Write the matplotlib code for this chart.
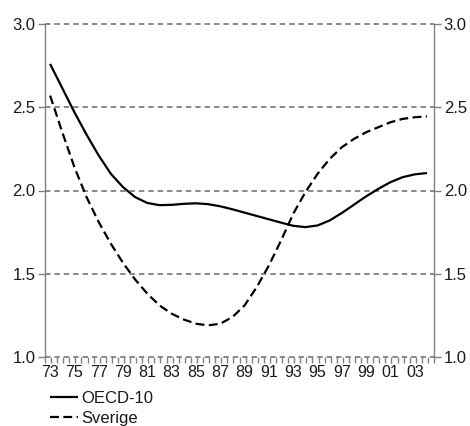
import matplotlib
matplotlib.use("Agg")
import matplotlib.pyplot as plt
import numpy as np

plt.rcParams['font.family'] = ['Liberation Sans', 'DejaVu Sans']

years = list(range(1973, 2005))
oecd10 = [2.76, 2.615, 2.47, 2.335, 2.21, 2.10, 2.02, 1.96, 1.925, 1.912,
          1.914, 1.92, 1.923, 1.918, 1.905, 1.887, 1.867, 1.847, 1.827,
          1.807, 1.788, 1.78, 1.79, 1.82, 1.865, 1.915, 1.965, 2.01, 2.05,
          2.08, 2.097, 2.105]
sverige = [2.57, 2.35, 2.14, 1.96, 1.81, 1.68, 1.565, 1.465, 1.38, 1.31,
           1.26, 1.225, 1.20, 1.19, 1.20, 1.24, 1.31, 1.42, 1.55, 1.70,
           1.86, 1.99, 2.10, 2.19, 2.26, 2.31, 2.35, 2.38, 2.41, 2.43,
           2.44, 2.445]
tick_years = list(range(1973, 2004, 2))
tick_labels = [f"{y % 100:02d}" for y in tick_years]
y_ticks = [1.0, 1.5, 2.0, 2.5, 3.0]
series_names = ["OECD-10", "Sverige"]

W, H = 470, 426
fig = plt.figure(figsize=(W / 100, H / 100), dpi=100)
ax = fig.add_axes([45 / W, 1 - 357 / H, (434 - 45) / W, (357 - 24) / H])

grey = "#808080"
text_col = "#1a1a1a"
fs_y = 12
fs_x = 11.5
fs_leg = 12

l1, = ax.plot(years, oecd10, color="black", lw=1.6, solid_capstyle="butt",
              solid_joinstyle="round")
l2, = ax.plot(years, sverige, color="black", lw=1.6, dashes=(4, 2),
              dash_capstyle="butt")

ax.set_xlim(1972.58, 2004.52)
ax.set_ylim(1.0, 3.0)

# dashed horizontal gridlines
for v in y_ticks:
    ax.axhline(v, color=grey, lw=1.3, dashes=(3, 2.2), zorder=0,
               clip_on=False)

for s in ["top", "bottom"]:
    ax.spines[s].set_visible(False)
for s in ["left", "right"]:
    ax.spines[s].set_color(grey)
    ax.spines[s].set_linewidth(1.0)

ax.set_yticks(y_ticks)
ax.set_yticklabels([f"{v:.1f}" for v in y_ticks])
ax.tick_params(axis="y", which="both", left=True, right=True,
               labelleft=True, labelright=True, direction="out",
               length=5, width=1.0, color=grey, labelsize=fs_y, pad=2,
               labelcolor=text_col)

# x axis: labels every second year, tick marks every half year
ax.set_xticks(tick_years)
ax.set_xticklabels(tick_labels)
ax.set_xticks(np.arange(1972.58, 2004.6, 0.5), minor=True)
ax.tick_params(axis="x", which="major", length=0, labelsize=fs_x, pad=6,
               labelcolor=text_col)
ax.tick_params(axis="x", which="minor", direction="out", length=4,
               width=1.0, color=grey)

fig.legend([l1, l2], series_names, loc="upper left",
           bbox_to_anchor=(50 / W, 1 - 391 / H), frameon=False,
           fontsize=fs_leg, handlelength=1.7, handletextpad=0.15,
           labelspacing=0.3, borderpad=0, borderaxespad=0,
           labelcolor=text_col)

fig.savefig("out.png", dpi=100)
